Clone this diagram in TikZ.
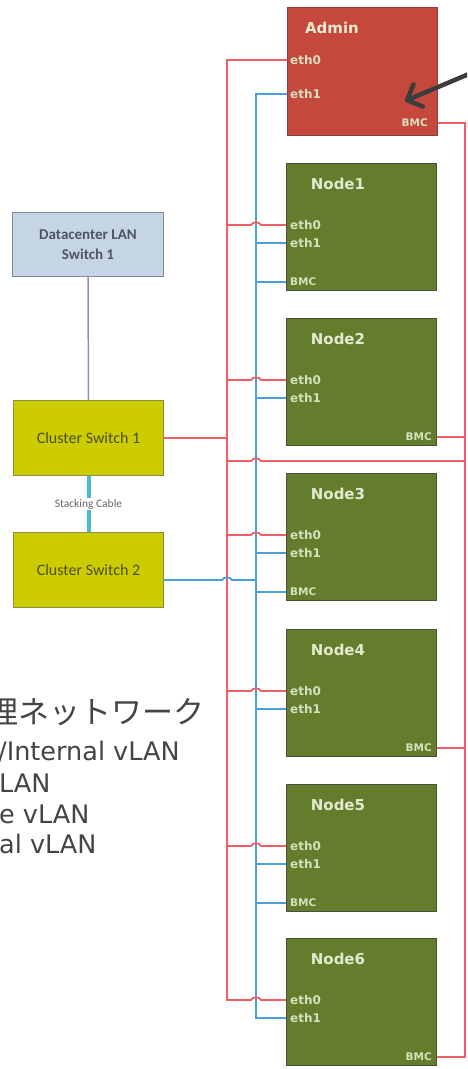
\documentclass[tikz,border=0pt]{standalone}
\usepackage{fontspec}
\usetikzlibrary{arrows.meta,calc}
\setmainfont{DejaVu Sans}
\newfontfamily\calfont{Carlito}
\newfontfamily\jpfont{Noto Sans CJK JP}

\definecolor{nodegreen}{RGB}{99,125,45}
\definecolor{nodeedge}{RGB}{72,82,58}
\definecolor{adminred}{RGB}{197,72,60}
\definecolor{adminedge}{RGB}{140,62,62}
\definecolor{titletext}{RGB}{228,234,208}
\definecolor{porttext}{RGB}{214,224,188}
\definecolor{swfill}{RGB}{204,204,0}
\definecolor{swedge}{RGB}{140,140,60}
\definecolor{swtext}{RGB}{78,78,30}
\definecolor{dcfill}{RGB}{198,213,230}
\definecolor{dcedge}{RGB}{130,140,152}
\definecolor{dctext}{RGB}{75,85,100}
\definecolor{linkred}{RGB}{240,95,100}
\definecolor{linkblue}{RGB}{75,160,215}
\definecolor{stackcyan}{RGB}{75,185,215}
\definecolor{uplink}{RGB}{150,140,175}
\definecolor{legendtext}{RGB}{68,68,68}
\definecolor{pointergray}{RGB}{60,60,60}

\tikzset{
  hostbox/.style={draw=nodeedge, line width=1pt, fill=nodegreen, inner sep=0pt,
    minimum width=150pt, minimum height=127pt, anchor=north west},
  adminbox/.style={hostbox, draw=adminedge, fill=adminred, minimum height=128pt},
  hosttitle/.style={font=\fontsize{15}{18}\selectfont\bfseries, text=titletext, inner sep=0pt},
  port/.style={font=\fontsize{12}{14}\selectfont\bfseries, text=porttext, inner sep=1pt, anchor=west},
  bmcport/.style={port, font=\fontsize{10.5}{12}\selectfont\bfseries},
  switchbox/.style={draw=swedge, line width=1pt, fill=swfill, minimum width=150pt,
    minimum height=75pt, inner sep=0pt, anchor=north west,
    font=\calfont\fontsize{16}{19}\selectfont, text=swtext},
  dcbox/.style={draw=dcedge, line width=1pt, fill=dcfill, minimum width=151pt,
    minimum height=64pt, inner sep=0pt, anchor=north west, align=center,
    font=\calfont\bfseries\fontsize{15}{20}\selectfont, text=dctext},
  redlink/.style={draw=linkred, line width=1.8pt},
  bluelink/.style={draw=linkblue, line width=1.8pt},
  stackcable/.style={draw=stackcyan, line width=4pt},
  stacklabel/.style={fill=white, inner sep=1pt, text=black!60,
    font=\calfont\fontsize{11.5}{13}\selectfont},
  dclink/.style={draw=uplink, line width=1.5pt},
  pointer/.style={draw=pointergray, line width=4.5pt, line cap=round, line join=round,
    -{Straight Barb[length=12pt,width=24pt,line cap=round,line join=round]}},
  legendjp/.style={font=\jpfont\fontsize{31}{36}\selectfont, text=legendtext, anchor=base east, inner sep=0pt},
  legend/.style={font=\fontsize{25.5}{30}\selectfont, text=legendtext, anchor=base west, inner sep=0pt},
}

\begin{document}
\begin{tikzpicture}[x=1pt,y=-1pt]
\useasboundingbox (0,0) rectangle (467,1069);
\clip (0,0) rectangle (467,1069);

% bus positions
\coordinate (rbus) at (227,0);
\coordinate (bbus) at (256,0);
\coordinate (rside) at (465,0);

% admin host
\node[adminbox] (admin) at (287,7) {};
\node[hosttitle] at (332,28) {Admin};
\node[port] (a-e0) at (289,60) {eth0};
\node[port] (a-e1) at (289,94) {eth1};
\node[bmcport, anchor=east] (a-bmc) at (429,123) {BMC};

% compute hosts
\foreach \i/\t/\side/\bx in {1/163/west/289, 2/318/east/433, 3/473/west/289,
                              4/629/east/433, 5/784/west/289, 6/938/east/433} {
  \node[hostbox] (n\i) at (286,\t) {};
  \node[hosttitle] at (338,\t+21) {Node\i};
  \node[port] (n\i-e0) at (289,\t+62) {eth0};
  \node[port] (n\i-e1) at (289,\t+80) {eth1};
  \node[bmcport, anchor=\side] (n\i-bmc) at (\bx,\t+119) {BMC};
}

% switches
\node[dcbox] (dc) at (12,212) {Datacenter LAN\\Switch 1};
\node[switchbox] (cs1) at (13,400) {Cluster Switch 1};
\node[switchbox] (cs2) at (13,532) {Cluster Switch 2};
\coordinate (cs2port) at ($(cs2.east)+(0,10)$);

\draw[dclink] (dc.south) -- (cs1.north);
\draw[stackcable] (cs1.south) -- node[stacklabel] {Stacking Cable} (cs2.north);

% blue bus (eth1 / BMC)
\draw[bluelink] (a-e1 -| admin.west) -- (a-e1 -| bbus) -- (n6-e1 -| bbus) -- (n6-e1 -| n6.west);
\foreach \i in {1,...,5}
  \draw[bluelink] (n\i-e1 -| bbus) -- (n\i-e1 -| n\i.west);
\foreach \i in {1,3,5}
  \draw[bluelink] (n\i-bmc -| bbus) -- (n\i-bmc -| n\i.west);

% red bus (eth0)
\draw[redlink] (a-e0 -| admin.west) -- (a-e0 -| rbus) -- (n6-e0 -| rbus)
  -- ($(n6-e0 -| bbus)+(-5,0)$) to[out=65,in=115] ($(n6-e0 -| bbus)+(5,0)$) -- (n6-e0 -| n6.west);
\foreach \i in {1,...,5}
  \draw[redlink] (n\i-e0 -| rbus) -- ($(n\i-e0 -| bbus)+(-5,0)$) to[out=65,in=115]
    ($(n\i-e0 -| bbus)+(5,0)$) -- (n\i-e0 -| n\i.west);

% red BMC side bus
\draw[redlink] (a-bmc -| admin.east) -- (a-bmc -| rside) -- (n6-bmc -| rside) -- (n6-bmc -| n6.east);
\foreach \i in {2,4}
  \draw[redlink] (n\i-bmc -| n\i.east) -- (n\i-bmc -| rside);
\coordinate (tie) at (0,461);
\draw[redlink] (tie -| rbus) -- ($(tie -| bbus)+(-5,0)$) to[out=65,in=115]
  ($(tie -| bbus)+(5,0)$) -- (tie -| rside);

% switch uplinks
\draw[redlink] (cs1.east) -- (cs1.east -| rbus);
\draw[bluelink] (cs2port) -- ($(cs2port -| rbus)+(-5,0)$) to[out=65,in=115]
  ($(cs2port -| rbus)+(5,0)$) -- (cs2port -| bbus);

% pointer
\coordinate (ptail) at (476,71);
\coordinate (ptip) at ($(admin.south east)+(-33,-35)$);
\draw[pointer] (ptail) -- (ptip);

% legend
\node[legendjp] (lg0) at (205,723) {理ネットワーク};
\node[legend] (lg1) at (-2,760) {/Internal vLAN};
\node[legend] (lg2) at (-1,792) {LAN};
\node[legend] (lg3) at (-1,823) {e vLAN};
\node[legend] (lg4) at (-1,853) {al vLAN};
\end{tikzpicture}
\end{document}
